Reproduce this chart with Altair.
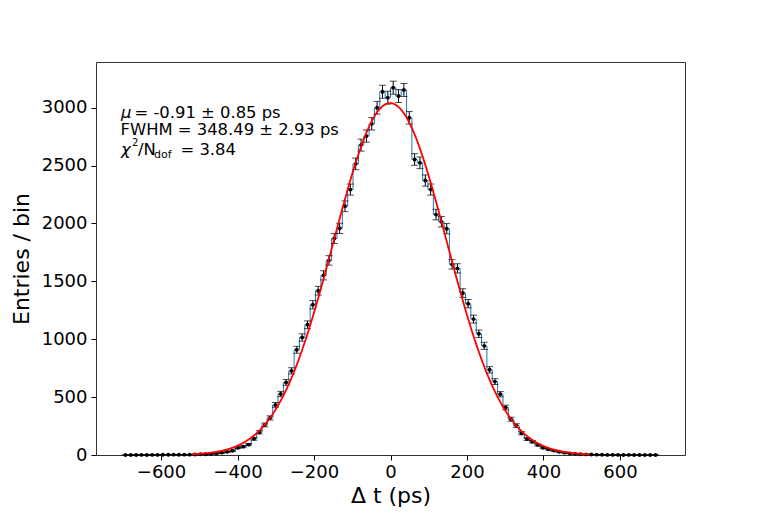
import altair as alt
import numpy as np
import pandas as pd

# ---- histogram (100 bins of 14 ps from -700 to 700 ps) ----
bin_lo = -700
bin_width = 14
counts = [
    0, 0, 0, 1, 0, 1, 1, 2, 2, 3,
    2, 3, 3, 4, 6, 7, 10, 14, 20, 27,
    37, 63, 72, 90, 140, 196, 260, 320, 433, 527,
    627, 727, 909, 1015, 1125, 1298, 1419, 1552, 1681, 1870,
    1958, 2149, 2293, 2515, 2677, 2755, 2861, 3000, 3138, 3087,
    3173, 3101, 3153, 2913, 2553, 2524, 2371, 2293, 2077, 2015,
    1955, 1647, 1612, 1399, 1307, 1174, 1047, 943, 736, 634,
    525, 410, 309, 254, 188, 138, 115, 87, 63, 49,
    38, 28, 20, 14, 10, 7, 5, 4, 3, 2,
    1, 1, 1, 0, 1, 0, 0, 0, 0, 0,
]

# ---- fit parameters (from the legend) ----
fit_mu = -0.91
fit_fwhm = 348.49
fit_amp = 3040
fit_range = [-520, 520]

x_ticks = [-600, -400, -200, 0, 200, 400, 600]
y_ticks = [0, 500, 1000, 1500, 2000, 2500, 3000]

centers = bin_lo + bin_width / 2 + bin_width * np.arange(len(counts))
cnt = np.array(counts, dtype=float)
err = np.sqrt(cnt)
hist = pd.DataFrame({"t": centers, "n": cnt, "lo": cnt - err, "hi": cnt + err})

sigma = fit_fwhm / (2 * np.sqrt(2 * np.log(2)))
tf = np.arange(fit_range[0], fit_range[1] + 1, 2.0)
fit = pd.DataFrame({"t": tf, "f": fit_amp * np.exp(-0.5 * ((tf - fit_mu) / sigma) ** 2)})

FONT = "DejaVu Sans"

axis_style = dict(
    grid=False,
    domain=False,
    ticks=True,
    tickSize=5,
    tickColor="black",
    tickWidth=1,
    labelFont=FONT,
    labelFontSize=18,
    labelColor="black",
    titleFont=FONT,
    titleFontSize=22,
    titleFontWeight="normal",
    titleColor="black",
    format="d",
)

xs = alt.Scale(domain=[-770, 770], nice=False, zero=False)
ys = alt.Scale(domain=[0, 3395], nice=False, zero=False)
xax = alt.Axis(values=x_ticks, title="Δ t (ps)", titlePadding=4, labelPadding=3, **axis_style)
yax = alt.Axis(values=y_ticks, title="Entries / bin", titlePadding=8, labelPadding=4, **axis_style)

base = alt.Chart(hist)

step = base.mark_line(interpolate="step", color="#1f77b4", strokeWidth=1).encode(
    x=alt.X("t:Q", scale=xs, axis=xax),
    y=alt.Y("n:Q", scale=ys, axis=yax),
)
bars = base.mark_rule(color="black", strokeWidth=1).encode(
    x="t:Q", y="lo:Q", y2="hi:Q"
)
cap_lo = base.mark_tick(orient="horizontal", size=7, thickness=1, color="black").encode(
    x="t:Q", y="lo:Q"
)
cap_hi = base.mark_tick(orient="horizontal", size=7, thickness=1, color="black").encode(
    x="t:Q", y="hi:Q"
)
dots = base.mark_circle(size=15, color="black", opacity=1).encode(x="t:Q", y="n:Q")

fitline = alt.Chart(fit).mark_line(color="red", strokeWidth=1.8).encode(
    x="t:Q", y="f:Q"
)


def label(s, x, y, size=16.4, italic=False):
    kw = dict(align="left", baseline="alphabetic", fontSize=size, font=FONT, color="black")
    if italic:
        kw["fontStyle"] = "italic"
    return alt.Chart(pd.DataFrame({"a": [0]})).mark_text(**kw).encode(
        x=alt.value(x), y=alt.value(y), text=alt.value(s)
    )


texts = [
    label("μ", 25, 55.5, italic=True),
    label("= -0.91 ± 0.85 ps", 38.5, 55.5),
    label("FWHM = 348.49 ± 2.93 ps", 24.5, 73),
    label("χ", 25, 93, italic=True),
    label("2", 36, 84, size=10),
    label("/N", 42, 93),
    label("dof", 58, 95.5, size=11),
    label("= 3.84", 84.5, 93),
]

chart = alt.layer(step, bars, cap_lo, cap_hi, dots, fitline, *texts).properties(
    width=589,
    height=393,
    background="white",
    autosize=alt.AutoSizeParams(type="none"),
    padding={"left": 88, "top": 54, "right": 69, "bottom": 57},
).configure_view(
    stroke="#333333", strokeWidth=1
)

chart.save("out.html", embed_options={"renderer": "svg", "actions": False})
